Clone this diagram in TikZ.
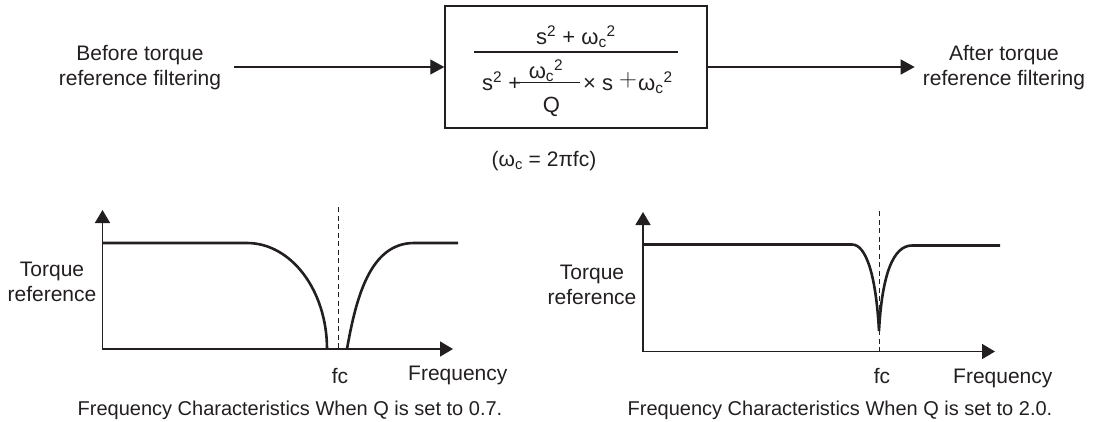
\documentclass[tikz,border=0pt]{standalone}
\usepackage{fontspec}
\setmainfont{Liberation Sans}
\usetikzlibrary{arrows.meta}
\definecolor{ink}{HTML}{231F20}
\begin{document}
\begin{tikzpicture}[x=1pt,y=-1pt,
  every node/.style={inner sep=0pt, text=ink, font=\fontsize{21}{25}\selectfont},
  lbl/.style={align=center, anchor=north},
  formula/.style={font=\fontsize{22}{26}\selectfont},
  caption/.style={anchor=base, font=\fontsize{20}{24}\selectfont},
  sig/.style={draw=ink, line width=1.3pt, -{Triangle[length=14pt,width=15pt]}},
  axisline/.style={draw=ink, line width=1.6pt, {Triangle[length=13pt,width=15pt]}-{Triangle[length=13pt,width=15pt]}},
  curve/.style={draw=ink, line width=2.6pt},
  guide/.style={draw=ink, line width=1pt, dash pattern=on 5pt off 3.5pt},
  fracbar/.style={draw=ink, line width=1.3pt},
  blockbox/.style={draw=ink, line width=1.5pt, minimum width=262pt, minimum height=122pt},
]
\useasboundingbox (0,0) rectangle (1100,421);

% ---- block diagram ----
\node[blockbox] (box) at (576,67) {};
\node[lbl] (before) at (140,44.7) {Before torque\\reference filtering};
\node[lbl] (after) at (1004,44.7) {After torque\\reference filtering};
\draw[sig] ([xshift=13pt]before.east |- box.west) -- (box.west);
\draw[sig] (box.east) -- ([xshift=-8pt]after.west |- box.east);

% formula
\node[formula, anchor=base] (num) at (576,44) {s\textsuperscript{2} + ω\textsubscript{c}\textsuperscript{2}};
\coordinate (b1l) at (474,52); \coordinate (b1r) at (678,52);
\draw[fracbar] (b1l) -- (b1r);
\node[formula, anchor=base west] (d1) at (482,90) {s\textsuperscript{2} +};
\coordinate (b2l) at (520,82.3); \coordinate (b2r) at (580,82.3);
\draw[fracbar] (b2l) -- (b2r);
\node[formula, anchor=base] (fn) at (546,78) {ω\textsubscript{c}\textsuperscript{2}};
\node[formula, anchor=base] (fq) at (551.5,112) {Q};
\node[formula, anchor=base west] (d2) at (583,90) {× s};
\node (dplus) at (628,80) {\fontsize{24}{24}\selectfont$+$};
\node[formula, anchor=base west] (d3) at (638,90) {ω\textsubscript{c}\textsuperscript{2}};
\node[anchor=base] (wc) at (544,166) {(ω\textsubscript{c} = 2πfc)};

% ---- left graph ----
\coordinate (Y1) at (102.5,210);
\coordinate (O1) at (102.5,349);
\coordinate (X1) at (453,349);
\draw[axisline] (Y1) -- (O1) -- (X1);
\coordinate (g1t) at (338,207); \coordinate (g1b) at (338,349);
\draw[guide] (g1t) -- (g1b);
\draw[curve] (102.5,243) -- (247,243) .. controls (291.2,243) and (327,290.5) .. (327,349);
\draw[curve] (347,349) .. controls (356,298) and (370,243) .. (414,243) -- (458,243);
\node[anchor=base] (fc1) at (340,383) {fc};
\node[anchor=base west] (fr1) at (408,380) {Frequency};
\node[lbl] (ty1) at (52,262) {Torque\\reference};
\node[caption] (cap1) at (290,415) {Frequency Characteristics When Q is set to 0.7.};

% ---- right graph ----
\coordinate (Y2) at (643,212);
\coordinate (O2) at (643,351.5);
\coordinate (X2) at (995,351.5);
\draw[axisline] (Y2) -- (O2) -- (X2);
\coordinate (g2t) at (879,211); \coordinate (g2b) at (879,351.5);
\draw[guide] (g2t) -- (g2b);
\draw[curve] (643,244.5) -- (852,244.5) .. controls (866,244.5) and (876,275) .. (879,331)
  .. controls (882,275) and (893,245.5) .. (912,245.5) -- (1000,245.5);
\node[anchor=base] (fc2) at (882,383) {fc};
\node[anchor=base west] (fr2) at (953,383) {Frequency};
\node[lbl] (ty2) at (592,265) {Torque\\reference};
\node[caption] (cap2) at (840,415) {Frequency Characteristics When Q is set to 2.0.};
\end{tikzpicture}
\end{document}
